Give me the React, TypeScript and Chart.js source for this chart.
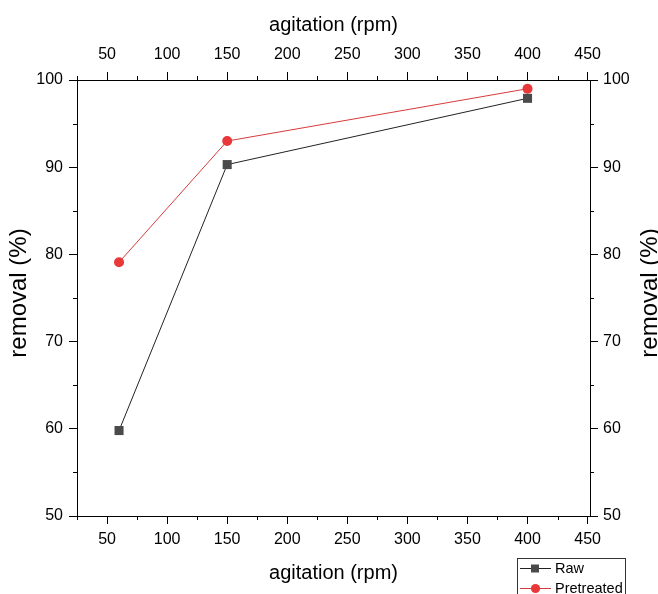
import React, { useEffect, useRef } from "react";
import { Chart, registerables } from "chart.js";

Chart.register(...registerables);

const agitation = [60, 150, 400];
const rawRemoval = [59.8, 90.3, 97.9];
const pretreatedRemoval = [79.1, 93.0, 99.0];
const xMajorTicks = [50, 100, 150, 200, 250, 300, 350, 400, 450];
const xMinorTicks = [25, 75, 125, 175, 225, 275, 325, 375, 425];
const yMajorTicks = [50, 60, 70, 80, 90, 100];
const yMinorTicks = [55, 65, 75, 85, 95];
const xTitle = "agitation (rpm)";
const yTitle = "removal (%)";
const seriesNames = ["Raw", "Pretreated"];

const FONT = "'Liberation Sans', Arial, sans-serif";
const RAW_MARK = "#4a4a4a";
const RAW_LINE = "#222222";
const PRE_MARK = "#e8383a";
const PRE_LINE = "#d83a3a";

const setTicks = (vals: number[]) => (scale: any) => {
  scale.ticks = vals.map((v) => ({ value: v }));
};

const extrasPlugin = {
  id: "extras",
  afterDraw(chart: any) {
    const ctx = chart.ctx;
    const { left, right, top, bottom } = chart.chartArea;
    ctx.save();
    ctx.strokeStyle = "#000";
    ctx.lineWidth = 1;
    const minorLen = 4;
    // minor ticks
    ctx.beginPath();
    for (const v of xMinorTicks) {
      const px = Math.round(chart.scales.x.getPixelForValue(v)) + 0.5;
      ctx.moveTo(px, bottom);
      ctx.lineTo(px, bottom + minorLen);
      ctx.moveTo(px, top);
      ctx.lineTo(px, top - minorLen);
    }
    for (const v of yMinorTicks) {
      const py = Math.round(chart.scales.y.getPixelForValue(v)) + 0.5;
      ctx.moveTo(left, py);
      ctx.lineTo(left - minorLen, py);
      ctx.moveTo(right, py);
      ctx.lineTo(right + minorLen, py);
    }
    ctx.stroke();

    // vertical axis titles (both read bottom-to-top)
    ctx.fillStyle = "#000";
    ctx.font = `24px ${FONT}`;
    ctx.textAlign = "center";
    ctx.textBaseline = "middle";
    const cy = (top + bottom) / 2 - 5;
    for (const tx of [19, 650]) {
      ctx.save();
      ctx.translate(tx, cy);
      ctx.rotate(-Math.PI / 2);
      ctx.fillText(yTitle, 0, 0);
      ctx.restore();
    }
    ctx.restore();

    // legend
    ctx.save();
    ctx.strokeStyle = "#333";
    ctx.lineWidth = 1;
    ctx.strokeRect(517.5, 558.5, 108, 40);
    ctx.font = `14.5px ${FONT}`;
    ctx.textAlign = "left";
    ctx.textBaseline = "middle";
    const rows = [
      { y: 568, line: RAW_LINE, mark: RAW_MARK, shape: "rect", name: seriesNames[0] },
      { y: 588, line: PRE_LINE, mark: PRE_MARK, shape: "circle", name: seriesNames[1] },
    ];
    for (const r of rows) {
      ctx.strokeStyle = r.line;
      ctx.beginPath();
      ctx.moveTo(520, r.y + 0.5);
      ctx.lineTo(551, r.y + 0.5);
      ctx.stroke();
      ctx.fillStyle = r.mark;
      if (r.shape === "rect") {
        ctx.fillRect(531, r.y - 3.5, 8, 8);
      } else {
        ctx.beginPath();
        ctx.arc(535.5, r.y + 0.5, 4.6, 0, Math.PI * 2);
        ctx.fill();
      }
      ctx.fillStyle = "#000";
      ctx.fillText(r.name, 555, r.y + 1);
    }
    ctx.restore();
  },
};

export default function App() {
  const ref = useRef<HTMLCanvasElement>(null);
  useEffect(() => {
    if (!ref.current) return;
    const tickFont = { family: FONT, size: 16 };
    const axisCommon = {
      grid: {
        display: true,
        drawOnChartArea: false,
        drawTicks: true,
        tickLength: 8,
        tickColor: "#000",
        tickWidth: 1,
        color: "#000",
      },
      border: { display: true, color: "#000", width: 1 },
    };
    const chart = new Chart(ref.current, {
      type: "line",
      data: {
        datasets: [
          {
            label: seriesNames[0],
            data: agitation.map((x, i) => ({ x, y: rawRemoval[i] })),
            borderColor: RAW_LINE,
            borderWidth: 1,
            pointStyle: "rect",
            pointRadius: 6.4,
            pointBackgroundColor: RAW_MARK,
            pointBorderColor: RAW_MARK,
            pointBorderWidth: 0,
            tension: 0,
            xAxisID: "x",
            yAxisID: "y",
          },
          {
            label: seriesNames[1],
            data: agitation.map((x, i) => ({ x, y: pretreatedRemoval[i] })),
            borderColor: PRE_LINE,
            borderWidth: 1,
            pointStyle: "circle",
            pointRadius: 5,
            pointBackgroundColor: PRE_MARK,
            pointBorderColor: PRE_MARK,
            pointBorderWidth: 0,
            tension: 0,
            xAxisID: "x",
            yAxisID: "y",
          },
        ],
      },
      options: {
        animation: false,
        responsive: false,
        devicePixelRatio: 1,
        layout: { padding: 0 },
        plugins: { legend: { display: false }, tooltip: { enabled: false } },
        scales: {
          x: {
            type: "linear",
            position: "bottom",
            min: 25,
            max: 452,
            ...axisCommon,
            afterBuildTicks: setTicks(xMajorTicks),
            afterFit: (s: any) => {
              s.height = 78;
            },
            ticks: { font: tickFont, color: "#000", padding: 6, maxRotation: 0, autoSkip: false },
            title: {
              display: true,
              text: xTitle,
              color: "#000",
              font: { family: FONT, size: 20 },
              padding: { top: 0, bottom: 9 },
            },
          },
          x2: {
            type: "linear",
            position: "top",
            min: 25,
            max: 452,
            ...axisCommon,
            afterBuildTicks: setTicks(xMajorTicks),
            afterFit: (s: any) => {
              s.height = 80;
            },
            ticks: { font: tickFont, color: "#000", padding: 8, maxRotation: 0, autoSkip: false },
            title: {
              display: true,
              text: xTitle,
              color: "#000",
              font: { family: FONT, size: 20 },
              padding: { top: 13, bottom: 0 },
            },
          },
          y: {
            type: "linear",
            position: "left",
            min: 50,
            max: 100,
            ...axisCommon,
            afterBuildTicks: setTicks(yMajorTicks),
            afterFit: (s: any) => {
              s.width = 77;
            },
            ticks: { font: tickFont, color: "#000", padding: 6, autoSkip: false },
          },
          y2: {
            type: "linear",
            position: "right",
            min: 50,
            max: 100,
            ...axisCommon,
            afterBuildTicks: setTicks(yMajorTicks),
            afterFit: (s: any) => {
              s.width = 68;
            },
            ticks: { font: tickFont, color: "#000", padding: 5, autoSkip: false },
          },
        },
      } as any,
      plugins: [extrasPlugin],
    });
    return () => chart.destroy();
  }, []);
  return (
    <div style={{ position: "absolute", left: 0, top: 0, width: 658, height: 594, background: "#fff" }}>
      <canvas ref={ref} width={658} height={594} style={{ display: "block" }} />
    </div>
  );
}
